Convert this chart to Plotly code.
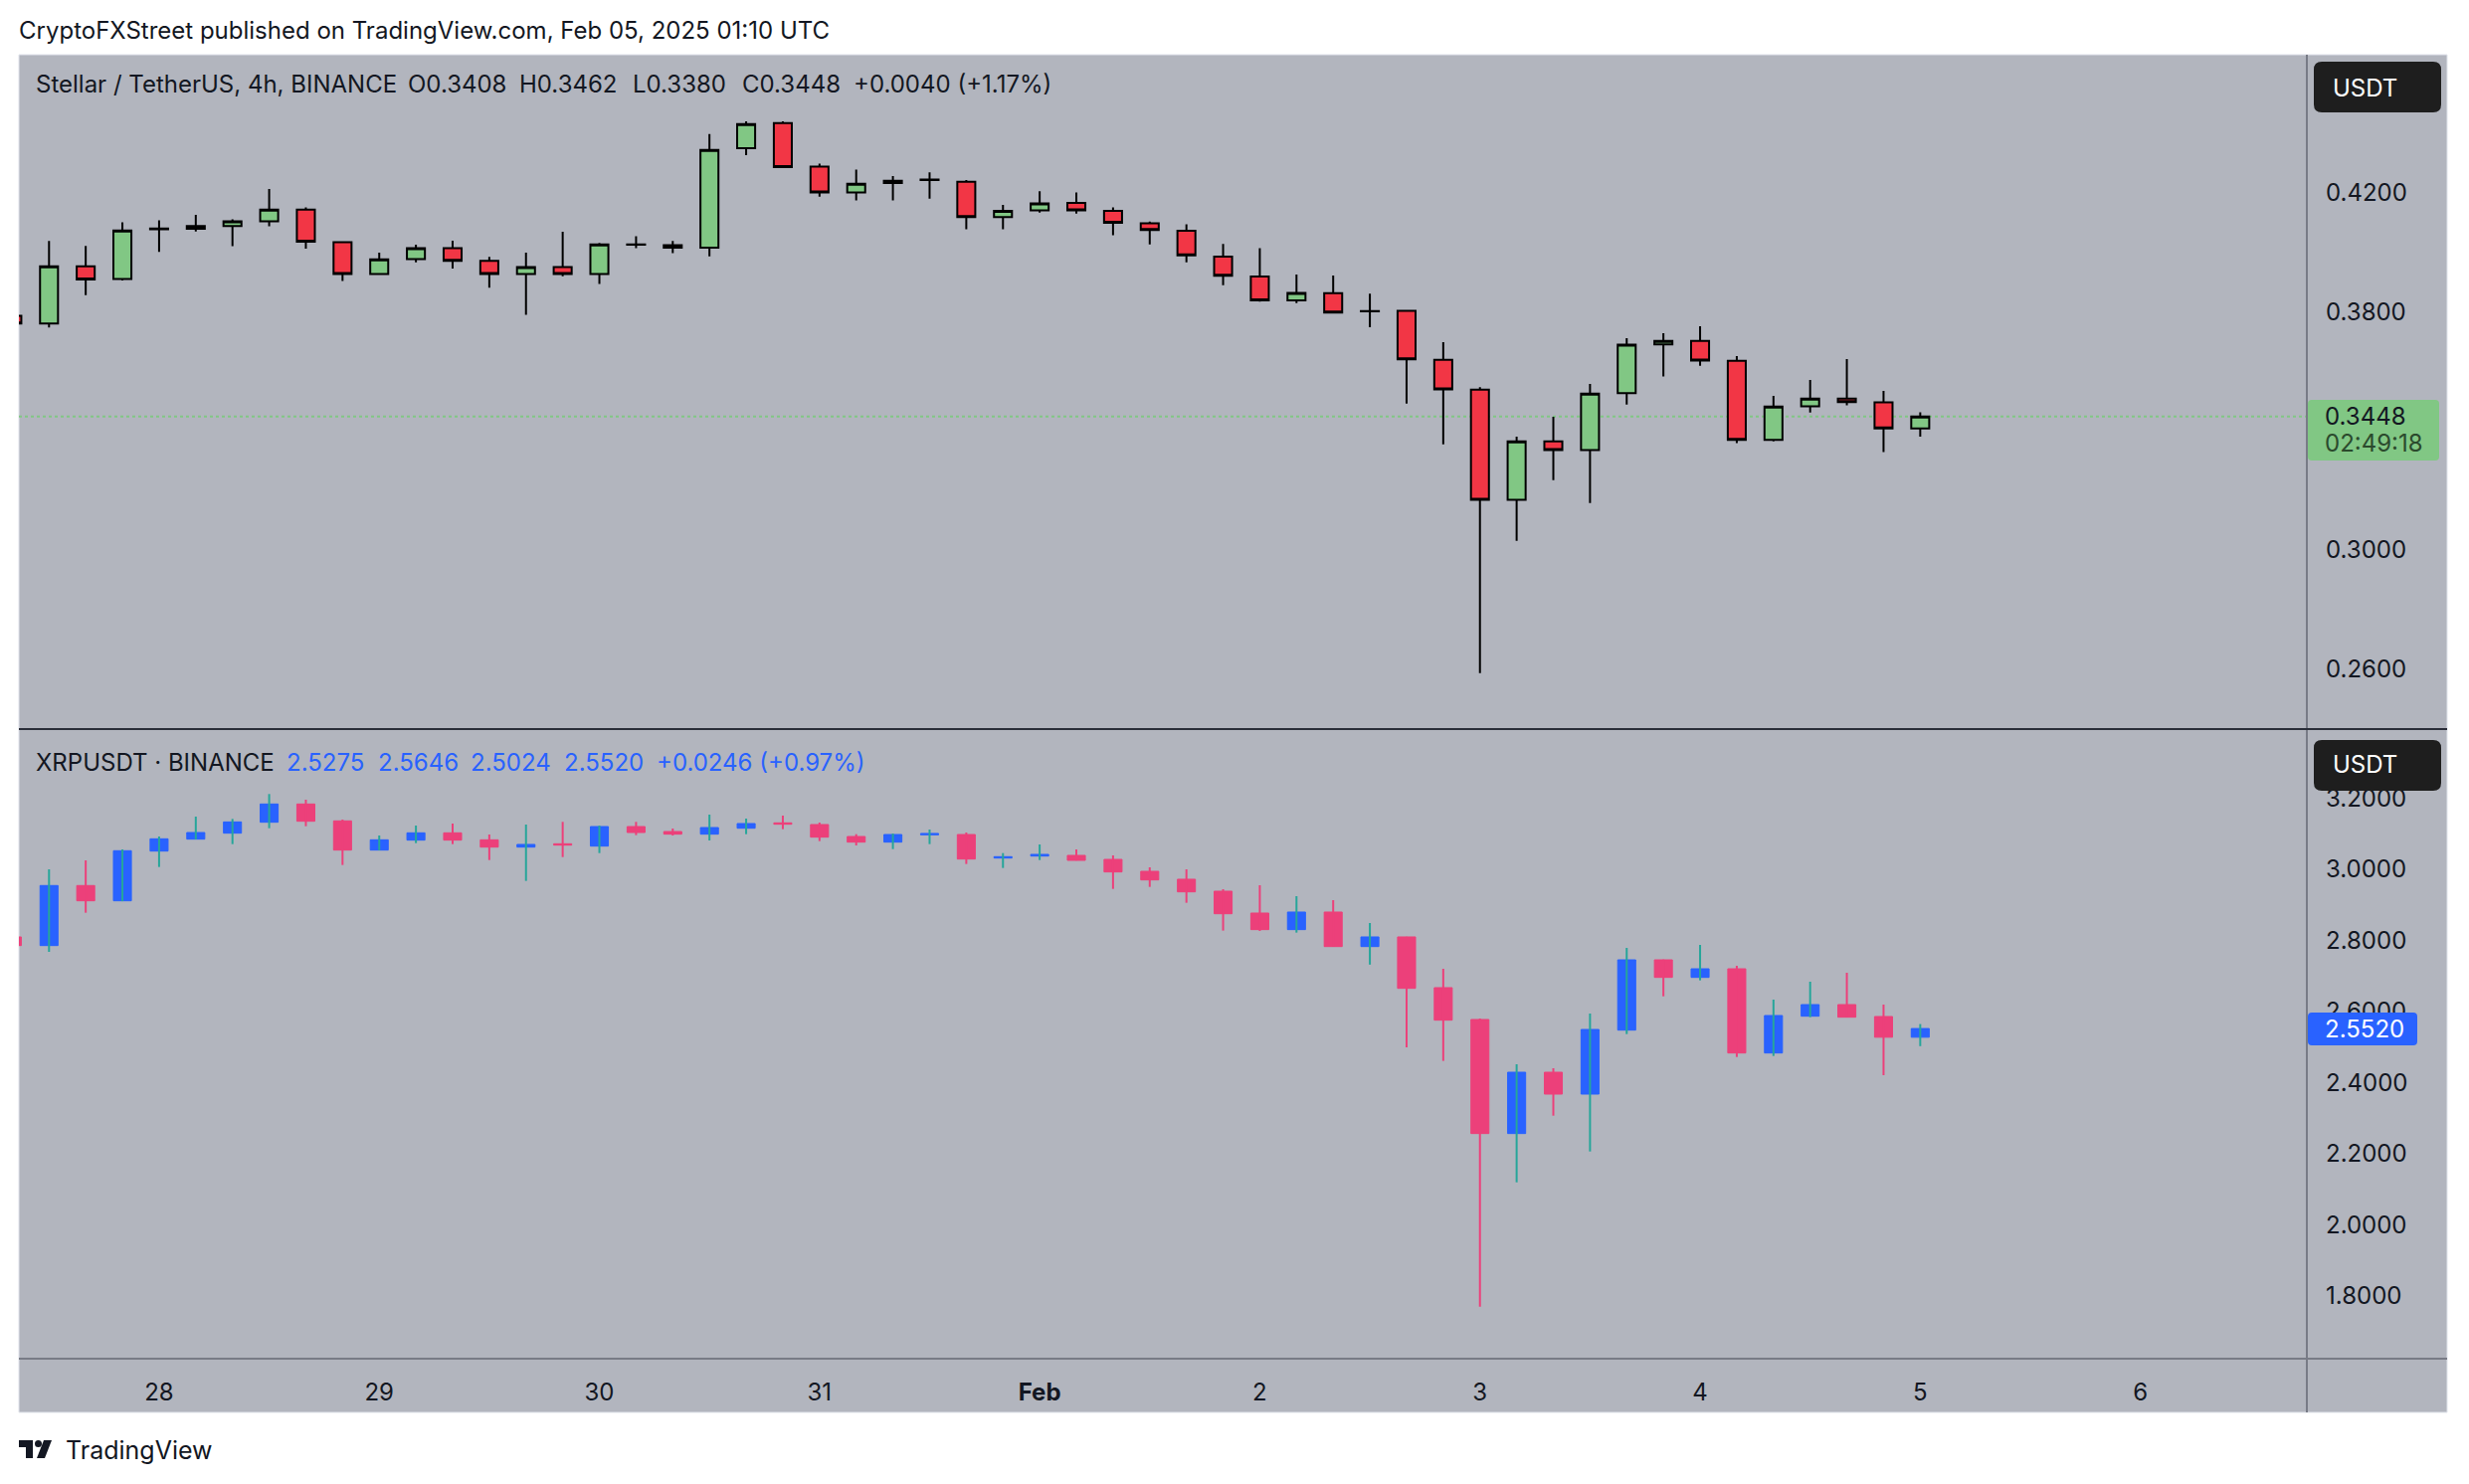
import pandas as pd
import plotly.graph_objects as go

W, H = 2482, 1492

# ---------------- data ----------------
times = pd.date_range("2025-01-27 08:00", periods=53, freq="4h")

xlm_open = [0.3786, 0.3760, 0.3953, 0.3910, 0.4077, 0.4079, 0.4088, 0.4104, 0.4143, 0.4034,
            0.3927, 0.3977, 0.4014, 0.3971, 0.3927, 0.3950, 0.3927, 0.4026, 0.4024, 0.4015,
            0.4350, 0.4434, 0.4288, 0.4201, 0.4240, 0.4244, 0.4237, 0.4118, 0.4141, 0.4166,
            0.4139, 0.4097, 0.4072, 0.3985, 0.3918, 0.3838, 0.3862, 0.3802, 0.3803, 0.3638,
            0.3538, 0.3168, 0.3364, 0.3335, 0.3526, 0.3690, 0.3702, 0.3635, 0.3369, 0.3482,
            0.3508, 0.3495, 0.3408]
xlm_high = [0.3790, 0.4038, 0.4021, 0.4101, 0.4107, 0.4126, 0.4111, 0.4213, 0.4151, 0.4035,
            0.3999, 0.4025, 0.4039, 0.3984, 0.3999, 0.4069, 0.4031, 0.4054, 0.4038, 0.4397,
            0.4440, 0.4440, 0.4298, 0.4278, 0.4256, 0.4269, 0.4243, 0.4159, 0.4205, 0.4201,
            0.4151, 0.4103, 0.4094, 0.4028, 0.4014, 0.3925, 0.3922, 0.3861, 0.3805, 0.3698,
            0.3546, 0.3380, 0.3447, 0.3557, 0.3711, 0.3728, 0.3751, 0.3651, 0.3517, 0.3571,
            0.3641, 0.3534, 0.3462]
xlm_low = [0.3755, 0.3747, 0.3856, 0.3905, 0.4001, 0.4070, 0.4020, 0.4087, 0.4012, 0.3903,
           0.3926, 0.3966, 0.3945, 0.3881, 0.3790, 0.3919, 0.3893, 0.4014, 0.3997, 0.3986,
           0.4326, 0.4286, 0.4187, 0.4174, 0.4174, 0.4180, 0.4077, 0.4077, 0.4133, 0.4130,
           0.4057, 0.4026, 0.3966, 0.3889, 0.3834, 0.3829, 0.3796, 0.3748, 0.3491, 0.3354,
           0.2585, 0.3030, 0.3234, 0.3157, 0.3488, 0.3582, 0.3618, 0.3358, 0.3364, 0.3461,
           0.3485, 0.3328, 0.3380]
xlm_close = [0.3760, 0.3953, 0.3908, 0.4073, 0.4080, 0.4088, 0.4104, 0.4143, 0.4035, 0.3927,
             0.3976, 0.4014, 0.3971, 0.3927, 0.3950, 0.3927, 0.4026, 0.4025, 0.4015, 0.4344,
             0.4431, 0.4286, 0.4201, 0.4230, 0.4233, 0.4243, 0.4118, 0.4139, 0.4164, 0.4141,
             0.4099, 0.4075, 0.3989, 0.3921, 0.3838, 0.3863, 0.3797, 0.3801, 0.3640, 0.3539,
             0.3168, 0.3364, 0.3335, 0.3525, 0.3689, 0.3702, 0.3636, 0.3369, 0.3481, 0.3508,
             0.3496, 0.3408, 0.3448]

xrp_open = [2.8096, 2.7853, 2.9541, 2.9112, 3.0510, 3.0846, 3.1014, 3.1321, 3.1834, 3.1359,
            3.0538, 3.0818, 3.1023, 3.0827, 3.0622, 3.0715, 3.0650, 3.1200, 3.1060, 3.0986,
            3.1153, 3.1303, 3.1256, 3.0920, 3.0762, 3.0967, 3.0976, 3.0314, 3.0370, 3.0389,
            3.0277, 2.9941, 2.9718, 2.9382, 2.8767, 2.8301, 2.8795, 2.7825, 2.8096, 2.6669,
            2.5774, 2.2567, 2.4291, 2.3676, 2.5475, 2.7452, 2.6958, 2.7200, 2.4832, 2.5867,
            2.6193, 2.5858, 2.5275]
xrp_high = [2.8150, 2.9997, 3.0249, 3.0557, 3.0920, 3.1480, 3.1414, 3.2114, 3.1955, 3.1396,
            3.0948, 3.1228, 3.1284, 3.0976, 3.1256, 3.1331, 3.1228, 3.1331, 3.1144, 3.1536,
            3.1424, 3.1508, 3.1312, 3.0986, 3.1004, 3.1116, 3.1032, 3.0454, 3.0697, 3.0557,
            3.0389, 3.0053, 2.9997, 2.9438, 2.9550, 2.9242, 2.9130, 2.8487, 2.8100, 2.7200,
            2.5802, 2.4515, 2.4403, 2.5942, 2.7788, 2.7460, 2.7872, 2.7284, 2.6333, 2.6837,
            2.7088, 2.6193, 2.5646]
xrp_low = [2.7800, 2.7676, 2.8776, 2.9100, 3.0063, 3.0840, 3.0706, 3.1153, 3.1209, 3.0119,
           3.0530, 3.0734, 3.0706, 3.0258, 2.9671, 3.0342, 3.0454, 3.0958, 3.0948, 3.0808,
           3.0986, 3.1126, 3.0790, 3.0669, 3.0566, 3.0706, 3.0147, 3.0035, 3.0258, 3.0245,
           2.9447, 2.9503, 2.9056, 2.8273, 2.8263, 2.8217, 2.7820, 2.7317, 2.4991, 2.4609,
           1.7700, 2.1196, 2.3070, 2.2063, 2.5364, 2.6426, 2.6874, 2.4720, 2.4748, 2.5839,
           2.5830, 2.4207, 2.5024]
xrp_close = [2.7853, 2.9541, 2.9112, 3.0520, 3.0855, 3.1032, 3.1330, 3.1834, 3.1349, 3.0538,
             3.0827, 3.1023, 3.0818, 3.0622, 3.0697, 3.0678, 3.1200, 3.1032, 3.0986, 3.1172,
             3.1284, 3.1265, 3.0902, 3.0762, 3.0976, 3.1004, 3.0286, 3.0352, 3.0417, 3.0249,
             2.9923, 2.9699, 2.9363, 2.8748, 2.8301, 2.8795, 2.7825, 2.8096, 2.6650, 2.5755,
             2.2567, 2.4291, 2.3676, 2.5494, 2.7452, 2.6958, 2.7200, 2.4832, 2.5886, 2.6193,
             2.5839, 2.5275, 2.5520]

day_ticks = ["2025-01-28", "2025-01-29", "2025-01-30", "2025-01-31", "2025-02-01",
             "2025-02-02", "2025-02-03", "2025-02-04", "2025-02-05", "2025-02-06"]
day_labels = ["28", "29", "30", "31", "<b>Feb</b>", "2", "3", "4", "5", "6"]
xlm_ticks = [0.26, 0.30, 0.38, 0.42]
xrp_ticks = [1.8, 2.0, 2.2, 2.4, 2.6, 2.8, 3.0, 3.2]

xlm_legend = ["Stellar / TetherUS, 4h, BINANCE", "O0.3408", "H0.3462", "L0.3380", "C0.3448",
              "+0.0040 (+1.17%)"]
xrp_legend = ["XRPUSDT · BINANCE", "2.5275", "2.5646", "2.5024", "2.5520", "+0.0246 (+0.97%)"]

# ---------------- styling ----------------
BG = "#b2b5be"
TXT = "#131722"
FONT = "Inter, Roboto, sans-serif"
FS = 24
XLM_UP, XLM_DN = "#81c784", "#f23645"
XRP_UP, XRP_DN = "#2962ff", "#ec407a"
XRP_UP_WICK = "#26a69a"


def px(x):
    return x / W


def py(y):
    return 1 - y / H


fig = go.Figure()

fig.add_trace(go.Candlestick(
    x=times, open=xlm_open, high=xlm_high, low=xlm_low, close=xlm_close,
    xaxis="x", yaxis="y",
    increasing=dict(fillcolor=XLM_UP, line=dict(color="#000000", width=2)),
    decreasing=dict(fillcolor=XLM_DN, line=dict(color="#000000", width=2)),
    hoverinfo="skip", showlegend=False))

# XRP wicks
fig.add_trace(go.Ohlc(
    x=times, open=xrp_open, high=xrp_high, low=xrp_low, close=xrp_close,
    xaxis="x", yaxis="y2", tickwidth=0,
    increasing=dict(line=dict(color=XRP_UP_WICK, width=2)),
    decreasing=dict(line=dict(color=XRP_DN, width=2)),
    hoverinfo="skip", showlegend=False))

# XRP bodies
body_hi = [max(o, c) for o, c in zip(xrp_open, xrp_close)]
body_lo = [min(o, c) for o, c in zip(xrp_open, xrp_close)]
fig.add_trace(go.Candlestick(
    x=times, open=xrp_open, high=body_hi, low=body_lo, close=xrp_close,
    xaxis="x", yaxis="y2",
    increasing=dict(fillcolor=XRP_UP, line=dict(color=XRP_UP, width=1)),
    decreasing=dict(fillcolor=XRP_DN, line=dict(color=XRP_DN, width=1)),
    hoverinfo="skip", showlegend=False))

X_LEFT, X_AXIS, X_RIGHT = 19, 2319, 2460
Y_TOP, Y_SEP, Y_TIME, Y_BOT = 55, 733, 1366, 1420

tickfont = dict(size=FS, color=TXT, family=FONT)
fig.update_layout(
    width=W, height=H, margin=dict(l=0, r=0, t=0, b=0),
    paper_bgcolor="white", plot_bgcolor="rgba(0,0,0,0)",
    showlegend=False, hovermode=False, dragmode=False,
    font=dict(family=FONT, color=TXT, size=FS),
    xaxis=dict(domain=[px(X_LEFT), px(X_AXIS)],
               range=["2025-01-27 08:43", "2025-02-06 18:09"],
               anchor="y2", rangeslider=dict(visible=False),
               showgrid=False, zeroline=False, showline=False,
               tickvals=day_ticks, ticktext=day_labels, ticks="",
               ticklabelstandoff=17, tickfont=tickfont, fixedrange=True),
    yaxis=dict(domain=[py(Y_SEP), py(Y_TOP)], range=[0.2397, 0.4664],
               side="right", anchor="x", showgrid=False, zeroline=False, showline=False,
               tickvals=xlm_ticks, ticktext=[f"{v:.4f}" for v in xlm_ticks], ticks="",
               ticklabelstandoff=18, tickfont=tickfont, fixedrange=True),
    yaxis2=dict(domain=[py(Y_TIME), py(Y_SEP + 2)], range=[1.6236, 3.3885],
                side="right", anchor="x", showgrid=False, zeroline=False, showline=False,
                tickvals=xrp_ticks, ticktext=[f"{v:.4f}" for v in xrp_ticks], ticks="",
                ticklabelstandoff=18, tickfont=tickfont, fixedrange=True),
)


def rrect(x0, y0, x1, y1, r):
    # rounded rectangle path in paper coordinates from pixel coordinates
    pts = [
        f"M {px(x0 + r)},{py(y0)}", f"L {px(x1 - r)},{py(y0)}",
        f"Q {px(x1)},{py(y0)} {px(x1)},{py(y0 + r)}", f"L {px(x1)},{py(y1 - r)}",
        f"Q {px(x1)},{py(y1)} {px(x1 - r)},{py(y1)}", f"L {px(x0 + r)},{py(y1)}",
        f"Q {px(x0)},{py(y1)} {px(x0)},{py(y1 - r)}", f"L {px(x0)},{py(y0 + r)}",
        f"Q {px(x0)},{py(y0)} {px(x0 + r)},{py(y0)}", "Z"]
    return " ".join(pts)


shapes = [
    # chart background
    dict(type="rect", xref="paper", yref="paper", layer="below",
         x0=px(X_LEFT), x1=px(X_RIGHT), y0=py(Y_BOT), y1=py(Y_TOP),
         fillcolor=BG, line=dict(color="#e0e3eb", width=1)),
    # price-axis separator
    dict(type="line", xref="paper", yref="paper", layer="above",
         x0=px(X_AXIS), x1=px(X_AXIS), y0=py(Y_TOP), y1=py(Y_BOT),
         line=dict(color="#787b86", width=2)),
    # pane separator
    dict(type="line", xref="paper", yref="paper", layer="above",
         x0=px(X_LEFT), x1=px(X_RIGHT), y0=py(Y_SEP), y1=py(Y_SEP),
         line=dict(color="#2a2e39", width=2)),
    # time-axis separator
    dict(type="line", xref="paper", yref="paper", layer="above",
         x0=px(X_LEFT), x1=px(X_RIGHT), y0=py(Y_TIME), y1=py(Y_TIME),
         line=dict(color="#787b86", width=2)),
    # current price line (XLM)
    dict(type="line", xref="paper", yref="y", layer="below",
         x0=px(X_LEFT), x1=px(X_AXIS), y0=xlm_close[-1], y1=xlm_close[-1],
         line=dict(color=XLM_UP, width=2, dash="dot")),
    # USDT badges
    dict(type="path", xref="paper", yref="paper", layer="above",
         path=rrect(2326, 62, 2454, 113, 8), fillcolor="#1e1e1e", line=dict(width=0)),
    dict(type="path", xref="paper", yref="paper", layer="above",
         path=rrect(2326, 744, 2454, 795, 8), fillcolor="#1e1e1e", line=dict(width=0)),
    # price labels
    dict(type="path", xref="paper", yref="paper", layer="above",
         path=rrect(2320, 402, 2452, 463, 4), fillcolor=XLM_UP, line=dict(width=0)),
    dict(type="path", xref="paper", yref="paper", layer="above",
         path=rrect(2320, 1018, 2430, 1051, 4), fillcolor=XRP_UP, line=dict(width=0)),
    # TradingView logo (approximation)
    dict(type="rect", xref="paper", yref="paper", layer="above",
         x0=px(19), x1=px(33), y0=py(1455), y1=py(1448), fillcolor=TXT, line=dict(width=0)),
    dict(type="rect", xref="paper", yref="paper", layer="above",
         x0=px(26), x1=px(33), y0=py(1466), y1=py(1448), fillcolor=TXT, line=dict(width=0)),
    dict(type="circle", xref="paper", yref="paper", layer="above",
         x0=px(35), x1=px(42), y0=py(1455), y1=py(1448), fillcolor=TXT, line=dict(width=0)),
    dict(type="path", xref="paper", yref="paper", layer="above",
         path=f"M {px(44)},{py(1448)} L {px(52)},{py(1448)} L {px(45)},{py(1466)} L {px(37)},{py(1466)} Z",
         fillcolor=TXT, line=dict(width=0)),
]
fig.update_layout(shapes=shapes)


def ann(text, x, y, size=FS, color=TXT, xanchor="left", yref="paper", family=FONT):
    return dict(text=text, x=px(x), y=y if yref != "paper" else py(y), xref="paper", yref=yref,
                xanchor=xanchor, yanchor="middle", showarrow=False,
                font=dict(size=size, color=color, family=family))


annotations = [
    ann("CryptoFXStreet published on TradingView.com, Feb 05, 2025 01:10 UTC", 17, 30),
    ann("TradingView", 64, 1458, size=25),
    ann("USDT", 2377, 88, color="white", xanchor="center"),
    ann("USDT", 2377, 769, color="white", xanchor="center"),
    ann(f"{xlm_close[-1]:.4f}", 2335, xlm_close[-1], yref="y"),
    ann("02:49:18", 2335, 446, color="#2b4a2d"),
    ann(f"{xrp_close[-1]:.4f}", 2335, xrp_close[-1], yref="y2", color="white"),
]
xlm_pos = [36, 410, 522, 636, 746, 858]
for t, x in zip(xlm_legend, xlm_pos):
    annotations.append(ann(t, x - 2, 85))
xrp_pos = [36, 288, 380, 473, 567, 660]
for i, (t, x) in enumerate(zip(xrp_legend, xrp_pos)):
    annotations.append(ann(t, x - 2, 766, color=TXT if i == 0 else XRP_UP))
fig.update_layout(annotations=annotations)

fig.write_html("out.html", config=dict(displayModeBar=False, staticPlot=True),
               post_script="document.body.style.margin='0';document.body.style.overflow='hidden';")
